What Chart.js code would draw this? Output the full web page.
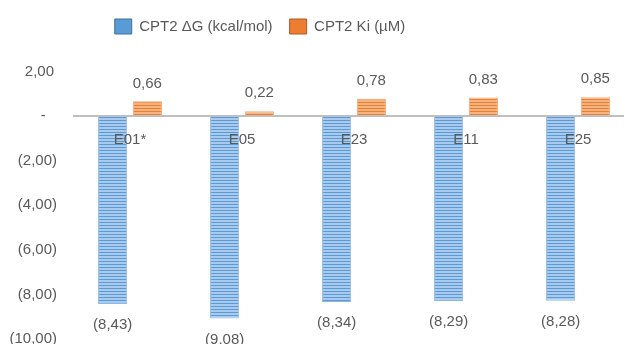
<!DOCTYPE html>
<html><head><meta charset="utf-8">
<script src="https://cdn.jsdelivr.net/npm/chart.js@4/dist/chart.umd.min.js"></script>
<style>
html,body{margin:0;padding:0;overflow:hidden;background:#fff;width:624px;height:344px;}
#wrap{position:absolute;left:-114px;top:0;width:748px;height:365px;}
</style></head><body>
<div id="wrap"><canvas id="c" width="748" height="365"></canvas></div>
<script>
const categories = ['E01*', 'E05', 'E23', 'E11', 'E25'];
const deltaG = [-8.43, -9.08, -8.34, -8.29, -8.28];
const ki = [0.66, 0.22, 0.78, 0.83, 0.85];
const seriesNames = ['CPT2 ΔG (kcal/mol)', 'CPT2 Ki (µM)'];
const yMin = -10, yMax = 2, yStep = 2;

const FONT = '"Liberation Sans", Arial, sans-serif';
const TEXT = '#595959';

function fmt(v) {
  const s = Math.abs(v).toFixed(2).replace('.', ',');
  if (Math.abs(v) < 1e-9) return '-';
  return v < 0 ? '(' + s + ')' : s;
}
function tickFmt(v) {
  if (Math.abs(v) < 1e-9) return '-\u2007\u2009';
  return v < 0 ? fmt(v) : fmt(v) + '\u2009';
}
function stripes(light, dark) {
  const p = document.createElement('canvas');
  p.width = 4; p.height = 3;
  const g = p.getContext('2d');
  g.fillStyle = light; g.fillRect(0, 0, 4, 3);
  g.fillStyle = dark; g.fillRect(0, 0, 4, 1);
  return document.getElementById('c').getContext('2d').createPattern(p, 'repeat');
}
const bluePat = stripes('#a9caed', '#5b9bd5');
const orangePat = stripes('#f5b382', '#ed7d31');

const valueLabels = {
  id: 'valueLabels',
  afterDatasetsDraw(chart) {
    const ctx = chart.ctx;
    ctx.save();
    ctx.font = '15px ' + FONT;
    ctx.fillStyle = TEXT;
    ctx.textAlign = 'center';
    ctx.textBaseline = 'middle';
    chart.data.datasets.forEach((ds, i) => {
      const meta = chart.getDatasetMeta(i);
      meta.data.forEach((el, j) => {
        const v = ds.data[j];
        const y = v < 0 ? el.y + 21 : el.y - 18;
        ctx.fillText(fmt(v), el.x, y);
      });
    });
    ctx.restore();
  }
};

new Chart(document.getElementById('c'), {
  type: 'bar',
  data: {
    labels: categories,
    datasets: [
      { label: seriesNames[0], data: deltaG, backgroundColor: bluePat, borderColor: '#8cb8e6', borderWidth: 1,
        categoryPercentage: 0.62, barPercentage: 0.84 },
      { label: seriesNames[1], data: ki, backgroundColor: orangePat, borderColor: '#f3a76e', borderWidth: 1,
        categoryPercentage: 0.62, barPercentage: 0.84 }
    ]
  },
  options: {
    responsive: false,
    animation: false,
    devicePixelRatio: 1,
    layout: { padding: { top: 2, left: 0, right: 0, bottom: 20 } },
    plugins: {
      legend: {
        position: 'top',
        weight: 3000,
        labels: {
          color: TEXT,
          font: { family: FONT, size: 15 },
          boxWidth: 17, boxHeight: 15, padding: 17,
          generateLabels(chart) {
            const items = Chart.defaults.plugins.legend.labels.generateLabels(chart);
            const fills = ['#5b9bd5', '#ed7d31'];
            const strokes = ['#41719c', '#ae5a21'];
            items.forEach((it, i) => { it.fillStyle = fills[i]; it.strokeStyle = strokes[i]; it.lineWidth = 1; });
            return items;
          }
        }
      },
      title: {
        display: true, text: ' ', weight: 500, position: 'top',
        font: { size: 10, family: FONT }, padding: { top: 0, bottom: 15.5 }
      },
      tooltip: { enabled: false }
    },
    scales: {
      x: {
        type: 'category',
        position: { y: 0 },
        afterFit(scale) { scale.height = 0; },
        grid: { display: false, drawTicks: false },
        border: { display: true, color: '#bfbfbf', width: 2, z: 1 },
        ticks: { color: TEXT, font: { family: FONT, size: 15 }, padding: 15, maxRotation: 0, z: 2 }
      },
      y: {
        min: yMin, max: yMax,
        grid: { display: false, drawTicks: false },
        border: { display: false },
        afterFit(scale) { scale.width = 188; },
        ticks: { stepSize: yStep, color: TEXT, font: { family: FONT, size: 15 }, padding: 17,
          callback: (v) => tickFmt(v) }
      }
    }
  },
  plugins: [valueLabels]
});
</script>
</body></html>
